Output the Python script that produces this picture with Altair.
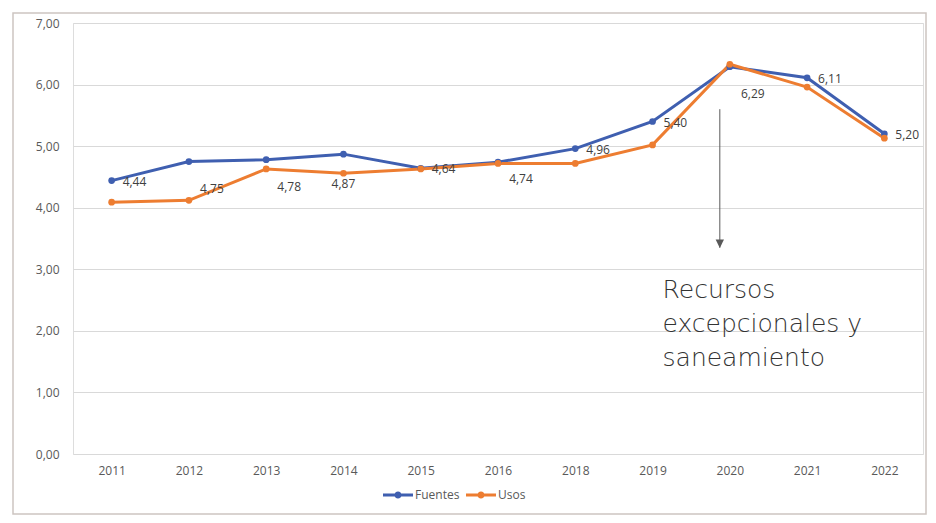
import altair as alt
import pandas as pd

years = ["2011", "2012", "2013", "2014", "2015", "2016", "2018", "2019", "2020", "2021", "2022"]
fuentes = [4.44, 4.75, 4.78, 4.87, 4.64, 4.74, 4.96, 5.40, 6.29, 6.11, 5.20]
usos = [4.09, 4.12, 4.63, 4.56, 4.63, 4.72, 4.72, 5.02, 6.33, 5.96, 5.13]
series = ["Fuentes", "Usos"]
colors = ["#3F5FB0", "#ED7D31"]
y_ticks = [0, 1, 2, 3, 4, 5, 6, 7]
label_right = ["2011", "2015", "2018", "2019", "2021", "2022"]
label_below_right = ["2012", "2013", "2020"]
label_below_right_small = ["2016"]
label_below = ["2014"]
annotation_lines = ["Recursos", "excepcionales y", "saneamiento"]
arrow_year = "2020"
arrow_top, arrow_bottom = 5.6, 3.35
annot_year = "2019"
annot_top = 2.86

df = pd.DataFrame({
    "year": years * 2,
    "value": fuentes + usos,
    "serie": [series[0]] * len(years) + [series[1]] * len(years),
})
lab = pd.DataFrame({
    "year": years,
    "value": fuentes,
    "label": [f"{v:.2f}".replace(".", ",") for v in fuentes],
})

W, H = 850, 431
FONT = "Open Sans"
GREY = "#595959"
x_scale = alt.Scale(type="point", domain=years, padding=0.5)

x_enc = alt.X(
    "year:N",
    sort=years,
    scale=x_scale,
    axis=alt.Axis(title=None, labelAngle=0, domain=False, ticks=False, grid=False,
                  labelPadding=11, labelFont=FONT, labelFontSize=12, labelColor=GREY),
)
y_enc = alt.Y(
    "value:Q",
    scale=alt.Scale(domain=[0, 7], nice=False, zero=True),
    axis=alt.Axis(title=None, values=y_ticks, domain=False, ticks=False, grid=True,
                  gridColor="#D9D9D9", gridWidth=1, labelPadding=14,
                  labelExpr="replace(format(datum.value, '.2f'), '.', ',')",
                  labelFont=FONT, labelFontSize=12, labelColor=GREY),
)
color_scale = alt.Scale(domain=series, range=colors)

legend_symbol = ("M-1,-0.1 L1,-0.1 L1,0.1 L-1,0.1 Z "
                 "M-0.24,0 A0.24,0.24 0 1,1 0.24,0 A0.24,0.24 0 1,1 -0.24,0 Z")
legend = alt.Legend(orient="none", legendX=310, legendY=457, title=None,
                    direction="horizontal", symbolType=legend_symbol,
                    symbolSize=900, symbolStrokeWidth=0, symbolOpacity=1,
                    labelFont=FONT, labelFontSize=12, labelColor=GREY,
                    labelOffset=2, columnPadding=6, padding=0)
color_enc = alt.Color("serie:N", scale=color_scale, title=None, legend=legend)

base = alt.Chart(df)

lines = base.mark_line(strokeWidth=3).encode(x=x_enc, y=y_enc, color=color_enc)
points = base.mark_point(filled=True, size=45, opacity=1).encode(
    x=x_enc, y=y_enc, color=color_enc)


def label_layer(group, align, dx, dy):
    return alt.Chart(lab).mark_text(
        font=FONT, fontSize=12, color="#404040", align=align, dx=dx, dy=dy
    ).encode(x=x_enc, y=y_enc, text="label:N").transform_filter(
        alt.FieldOneOfPredicate(field="year", oneOf=group))


t_right = label_layer(label_right, "left", 11, 1)
t_below_right = label_layer(label_below_right, "center", 23, 27)
t_below_right_small = label_layer(label_below_right_small, "center", 23, 17)
t_below = label_layer(label_below, "center", 0, 30)

ann_df = pd.DataFrame({"year": [arrow_year], "top": [arrow_top], "bottom": [arrow_bottom]})
arrow_line = alt.Chart(ann_df).mark_rule(color=GREY, strokeWidth=1, xOffset=-10).encode(
    x=alt.X("year:N", sort=years, scale=x_scale), y="top:Q", y2="bottom:Q",
)
arrow_head = alt.Chart(ann_df).mark_point(
    shape="M-1,-1 L1,-1 L0,1 Z", filled=True, size=70, color=GREY, opacity=1,
    xOffset=-10, yOffset=-4,
).encode(x=alt.X("year:N", sort=years, scale=x_scale), y="bottom:Q")

text_df = pd.DataFrame({"year": [annot_year], "top": [annot_top], "txt": [annotation_lines]})
annot_text = alt.Chart(text_df).mark_text(
    align="left", baseline="top", font="DejaVu Sans", fontWeight=300, fontSize=25,
    lineHeight=34, color="#333333", dx=10,
).encode(x=alt.X("year:N", sort=years, scale=x_scale), y="top:Q", text="txt")

frame = alt.Chart(pd.DataFrame({"f": [0]})).mark_rect(
    fillOpacity=0, stroke="#CDC5C1", strokeWidth=1.5
).encode(x=alt.value(-60), x2=alt.value(853), y=alt.value(-10), y2=alt.value(491))

chart = alt.layer(
    frame, lines, points, t_right, t_below_right, t_below_right_small, t_below,
    arrow_line, arrow_head, annot_text
).properties(
    width=W, height=H,
    padding={"left": 4, "top": 4, "right": 0, "bottom": 0},
).configure_view(stroke=None).configure(background="white")

chart.save("out.html", embed_options={"renderer": "svg", "actions": False})
